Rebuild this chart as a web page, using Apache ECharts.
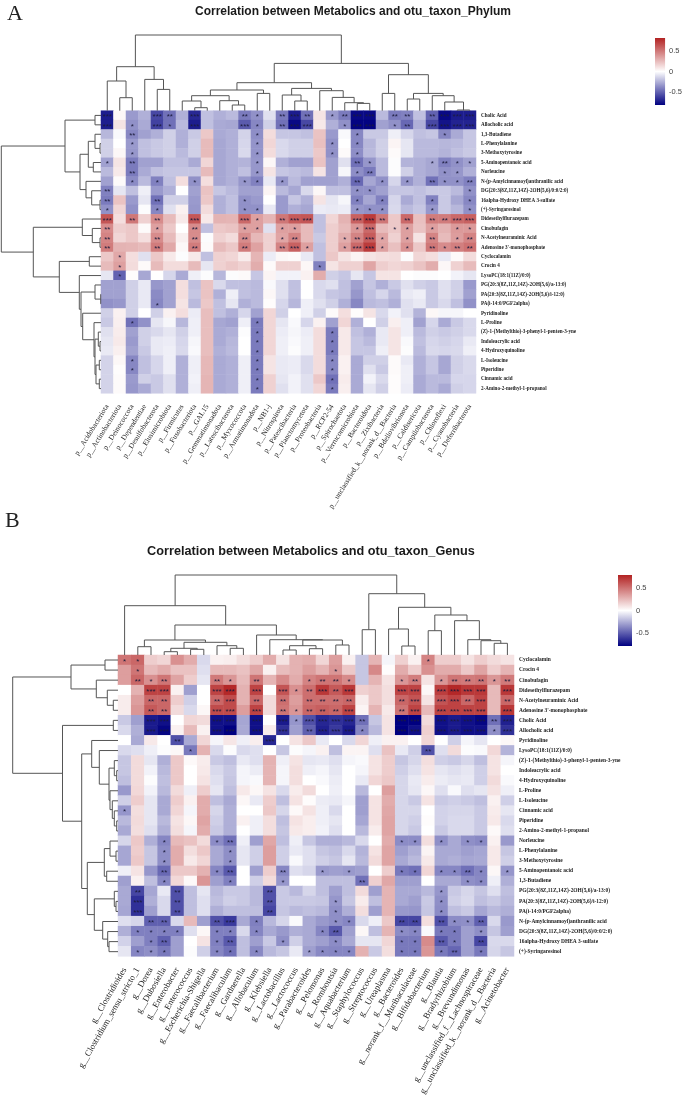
<!DOCTYPE html>
<html lang="en">
<head>
<meta charset="UTF-8">
<title>Correlation between Metabolics and otu_taxon</title>
<style>
    html, body { margin: 0; padding: 0; background: #fff; }
    #main { width: 685px; height: 1098px; filter: blur(0.4px); }
</style>
</head>
<body>
<div id="main"></div>
<script src="https://cdn.jsdelivr.net/npm/echarts@6/dist/echarts.min.js"></script>
<script>
// ---------- panel A: phylum ----------
var taxaA = ['p__Acidobacteriota','p__Actinobacteriota','p__Deinococcota','p__Dependentiae','p__Desulfobacterota','p__Elusimicrobiota','p__Firmicutes','p__Fusobacteriota','p__GAL15','p__Gemmatimonadota','p__Latescibacterota','p__Myxococcota','p__Armatimonadota','p__NB1-j','p__Nitrospirota','p__Patescibacteria','p__Planctomycetota','p__Proteobacteria','p__RCP2-54','p__Spirochaetota','p__Verrucomicrobiota','p__Bacteroidota','p__Zixibacteria','p__unclassified_k__norank_d__Bacteria','p__Bdellovibrionota','p__Caldisericota','p__Campilobacterota','p__Chloroflexi','p__Cyanobacteria','p__Deferribacterota'];
var metabA = ['Cholic Acid','Allocholic acid','1,3-Butadiene','L-Phenylalanine','3-Methoxytyrosine','5-Aminopentanoic acid','Norleucine','N-(p-Amylcinnamoyl)anthranilic acid','DG(20:3(8Z,11Z,14Z)-2OH(5,6)/0:0/2:0)','16alpha-Hydroxy DHEA 3-sulfate','(+)-Syringaresinol','Didesethylflurazepam','Cinobufagin','N-Acetylneuraminic Acid','Adenosine 3\'-monophosphate','Cyclocalamin','Crocin 4','LysoPC(18:1(11Z)/0:0)','PG(20:3(8Z,11Z,14Z)-2OH(5,6)/a-13:0)','PA(20:3(8Z,11Z,14Z)-2OH(5,6)/i-12:0)','PA(i-14:0/PGF2alpha)','Pyridinoline','L-Proline','(Z)-1-(Methylthio)-3-phenyl-1-penten-3-yne','Indoleacrylic acid','4-Hydroxyquinoline','L-Isoleucine','Piperidine','Cinnamic acid','2-Amino-2-methyl-1-propanol'];
var corrA = [
[-.72,.03,-.32,-.25,-.58,-.45,-.25,-.68,-.2,-.25,-.22,-.42,-.35,-.1,-.42,-.72,-.45,.1,-.32,-.42,-.78,-.78,-.22,-.42,-.4,-.2,-.5,-.78,-.72,-.72],
[-.72,.1,-.35,-.27,-.6,-.45,-.22,-.72,-.2,-.27,-.28,-.52,-.38,-.15,-.45,-.78,-.58,.08,-.25,-.35,-.8,-.8,-.3,-.35,-.48,-.25,-.58,-.75,-.7,-.7],
[-.23,-.02,-.38,-.3,-.25,-.15,-.25,-.17,.2,-.27,-.25,-.14,-.36,.13,-.18,-.18,-.2,.22,-.32,-.02,-.38,-.17,-.17,-.05,-.13,-.2,-.18,-.38,-.27,-.18],
[-.15,0,-.32,-.2,-.17,-.15,-.25,-.15,.25,-.28,-.25,-.13,-.34,.15,-.12,-.15,-.15,.23,-.35,0,-.38,-.23,-.15,.04,-.08,-.22,-.22,-.23,-.22,-.18],
[-.15,.03,-.33,-.2,-.17,-.15,-.22,-.15,.25,-.28,-.25,-.12,-.34,.13,-.12,-.15,-.15,.2,-.35,.02,-.36,-.22,-.15,.02,-.08,-.22,-.22,-.24,-.2,-.17],
[-.3,.1,-.42,-.3,-.3,-.2,-.2,-.27,.15,-.28,-.25,-.24,-.33,.03,-.25,-.3,-.3,.22,-.3,-.1,-.45,-.33,-.22,-.01,-.24,-.25,-.28,-.4,-.35,-.3],
[-.22,.08,-.42,-.27,-.2,-.18,-.18,-.18,.25,-.28,-.25,-.2,-.33,.1,-.18,-.2,-.22,.1,-.3,-.03,-.36,-.42,-.22,-.01,-.15,-.25,-.28,-.35,-.33,-.25],
[-.3,.02,-.37,-.22,-.4,-.2,.12,-.35,.12,-.28,-.25,-.33,-.4,-.07,-.33,-.22,-.3,-.3,-.3,-.25,-.48,-.28,-.35,-.13,-.33,-.25,-.45,-.35,-.35,-.4],
[-.4,-.08,-.2,-.05,-.32,-.25,0,-.3,.22,-.18,-.22,-.3,-.3,.04,-.22,-.28,-.12,.03,-.2,-.2,-.35,-.35,-.3,-.18,-.18,-.2,-.17,-.17,-.22,-.35],
[-.42,.22,-.32,-.08,-.45,-.15,-.15,-.32,.2,-.25,-.2,-.35,-.32,0,-.32,-.18,-.25,.1,-.08,-.03,-.4,-.28,-.4,-.13,-.27,-.2,-.4,-.17,-.28,-.38],
[-.35,.15,-.35,-.01,-.38,-.1,.05,-.33,.13,-.25,-.2,-.35,-.35,-.07,-.32,-.25,-.28,-.06,-.07,-.06,-.33,-.35,-.35,-.12,-.22,-.18,-.33,-.17,-.23,-.35],
[.62,.12,.5,.17,.42,.25,.08,.62,.08,.28,.27,.55,.35,.27,.5,.6,.62,-.2,.15,.28,.58,.72,.5,.2,.55,.23,.48,.48,.55,.58],
[.42,.18,.2,.02,.35,.2,0,.42,-.2,.2,.22,.35,.35,-.1,.35,.35,.25,-.2,.18,.25,.38,.55,.25,.2,.35,.22,.35,.28,.37,.37],
[.45,.15,.2,.12,.42,.25,.06,.42,-.01,.17,.13,.42,.26,.17,.33,.45,.25,-.17,.18,.3,.45,.6,.33,.17,.35,.1,.45,.25,.36,.45],
[.48,.28,.27,.25,.48,.32,.03,.48,.02,.25,.2,.48,.34,.17,.45,.58,.35,-.2,.18,.35,.55,.72,.35,.23,.4,.2,.5,.42,.47,.52],
[.2,.32,.12,-.1,.2,.08,-.01,.08,-.2,.17,.15,.07,.27,-.06,.03,.02,-.07,-.2,.2,.1,.04,.1,.12,.13,-.01,.15,.12,-.07,.02,.13],
[.25,.35,.13,.02,.25,.13,.13,.25,-.08,.17,.2,.17,.3,.02,.17,.17,.03,-.4,.1,.17,.17,.33,.18,.15,.17,.22,.3,.03,.17,.25],
[-.08,-.5,.01,-.28,0,-.13,-.27,-.05,-.01,-.23,-.01,.02,-.18,.04,-.04,-.04,.05,.3,-.15,-.18,-.08,-.18,.1,.1,0,-.01,-.01,0,-.04,-.08],
[-.3,-.3,-.15,-.07,-.33,-.3,.12,-.2,.22,-.12,-.2,-.2,-.22,-.02,-.1,-.2,0,-.12,-.1,-.2,-.3,-.18,-.25,-.17,-.1,-.15,-.17,-.1,-.15,-.32],
[-.3,-.3,-.15,-.07,-.37,-.3,.12,-.18,.22,-.25,-.05,-.2,-.22,.03,-.1,-.2,0,-.12,-.18,-.2,-.33,-.2,-.13,-.22,-.07,-.05,-.17,-.1,-.15,-.3],
[-.35,-.33,-.15,-.07,-.38,-.3,.1,-.22,.2,-.2,-.08,-.25,-.22,.01,-.13,-.23,-.05,-.1,-.15,-.25,-.38,-.22,-.2,-.25,-.1,-.07,-.17,-.12,-.2,-.35],
[-.15,.05,-.15,0,-.15,.05,.12,-.06,.24,-.2,-.25,-.13,-.3,.15,-.15,0,-.05,-.15,.02,.12,.01,.1,-.12,-.04,-.1,-.24,.03,-.03,-.03,0],
[-.17,.06,-.45,-.35,-.08,-.03,-.23,-.05,.24,-.28,-.3,-.05,-.42,.15,-.08,-.02,-.13,.05,-.3,.15,-.25,0,-.15,.06,-.05,-.3,-.13,-.27,-.17,-.12],
[-.1,.07,-.3,-.15,-.12,-.08,-.15,-.05,.24,-.27,-.25,-.01,-.42,.15,-.06,-.03,-.06,.13,-.42,.08,-.2,-.25,-.07,.1,-.05,-.22,-.15,-.17,-.15,-.12],
[-.08,.08,-.32,-.15,-.07,-.06,-.13,-.03,.24,-.27,-.23,0,-.42,.15,-.05,-.02,-.05,.13,-.42,.08,-.18,-.22,-.07,.1,-.02,-.2,-.13,-.15,-.13,-.07],
[-.07,.06,-.3,-.17,-.07,-.05,-.12,-.02,.24,-.25,-.22,0,-.42,.15,-.05,-.01,-.05,.13,-.42,.08,-.18,-.18,-.05,.1,-.01,-.22,-.12,-.13,-.12,-.05],
[-.14,.03,-.38,-.2,-.13,-.05,-.25,-.05,.26,-.27,-.25,-.05,-.42,.1,-.07,-.06,-.12,.13,-.38,.05,-.27,-.15,-.15,.02,-.07,-.25,-.18,-.28,-.15,-.12],
[-.14,.01,-.38,-.2,-.13,-.05,-.25,-.05,.26,-.27,-.25,-.05,-.42,.1,-.07,-.06,-.12,.13,-.38,.05,-.27,-.1,-.17,.02,-.05,-.25,-.18,-.28,-.15,-.12],
[-.14,.02,-.32,-.15,-.17,-.1,-.25,-.04,.27,-.27,-.25,-.05,-.42,.17,-.08,-.04,-.1,.2,-.45,.07,-.27,-.04,-.12,.01,-.05,-.27,-.22,-.22,-.13,-.13],
[-.14,.02,-.33,-.27,-.17,-.1,-.25,-.05,.27,-.27,-.25,-.05,-.42,.17,-.1,-.04,-.1,.15,-.42,.06,-.27,-.08,-.15,.01,-.06,-.27,-.22,-.27,-.15,-.13]
];
// number of significance stars per cell, five columns to a group
var sigA = [
'30003 20300 02102 32012 33022 02333',
'30103 10300 03102 33001 33012 03333',
'00200 00000 00100 00000 10000 00100',
'00100 00000 00100 00010 10000 00000',
'00100 00000 00100 00010 10000 00000',
'10200 00000 00100 00000 21000 01211',
'00200 00000 00100 00000 12000 00110',
'00101 00100 01101 00000 20101 02112',
'20000 00000 00000 00000 11000 00001',
'20002 00000 01000 00000 10100 01001',
'10001 00000 01100 00000 11100 01001',
'30202 00300 03102 33000 33202 02233',
'20001 00200 01101 10000 13011 01011',
'20002 00200 02001 20001 23101 02012',
'20002 00200 02002 31001 33101 02122',
'01000 00000 00000 00000 00000 00000',
'01000 00000 00000 00100 00000 00000',
'01000 00000 00000 00000 00000 00000',
'00000 00000 00000 00000 00000 00000',
'00000 00000 00000 00000 00000 00000',
'00001 00000 00000 00000 00000 00000',
'00000 00000 00000 00000 00000 00000',
'00100 00000 00100 00000 00000 00000',
'00000 00000 00100 00010 00000 00000',
'00000 00000 00100 00010 00000 00000',
'00000 00000 00100 00010 00000 00000',
'00100 00000 00100 00010 00000 00000',
'00100 00000 00100 00010 00000 00000',
'00000 00000 00100 00010 00000 00000',
'00000 00000 00100 00010 00000 00000'
];
// trees: [merge height, left child, right child], a plain number is a leaf index
var treeTopA = [75.7,
    [44, [29.7, 0, [13, 1, 2]], [31.3, 3, [21.3, 4, 5]]],
    [47.3,
        [28,
            [20.7, [15, [9.7, 6, [3, 7, 8]], [10, 9, [5.7, 10, 11]]], [17.3, 12, 13]],
            [22.3, [15.7, 14, [9.7, 15, 16]], [20, 17, [13.3, 18, [8, 19, [7.3, 20, 21]]]]]
        ],
        [36, [17.3, 22, 23], [17.3, [11.7, 24, 25], [15, 26, [8.7, 27, [.7, 28, 29]]]]]
    ]
];
var treeLeftA = [99.7,
    [36, [6, 0, 1], [21,
        [12.7, [6, 2, [1, 3, 4]], [7.7, 5, 6]],
        [15, 7, [9.3, 8, [1, 9, 10]]]
    ]],
    [67.7,
        [18.7, 11, [8.7, 12, [1, 13, 14]]],
        [41.7, [11.7, 15, 16],
            [21.7, 17,
                [20, [6, 18, [.3, 19, 20]],
                    [18.3, 21, [7, 22, [6, [2.7, 23, [1, 24, 25]], [5, [1.7, 26, 27], [1.7, 28, 29]]]]]
                ]
            ]
        ]
    ]
];

// ---------- panel B: genus ----------
var taxaB = ['g__Clostridioides','g__Clostridium_sensu_stricto_1','g__Dorea','g__Dubosiella','g__Enterobacter','g__Enterococcus','g__Escherichia-Shigella','g__Faecalibacterium','g__Faecalibaculum','g__Gardnerella','g__Allobaculum','g__Klebsiella','g__Lactobacillus','g__Lactococcus','g__Parabacteroides','g__Pelomonas','g__Romboutsia','g__Aquabacterium','g__Staphylococcus','g__Streptococcus','g__Ureaplasma','g__Bacteroides','g__norank_f__Muribaculaceae','g__Bifidobacterium','g__Blautia','g__Bradyrhizobium','g__Brevundimonas','g__unclassified_f__Lachnospiraceae','g__unclassified_k__norank_d__Bacteria','g__Acinetobacter'];
var metabB = ['Cyclocalamin','Crocin 4','Cinobufagin','Didesethylflurazepam','N-Acetylneuraminic Acid','Adenosine 3\'-monophosphate','Cholic Acid','Allocholic acid','Pyridinoline','LysoPC(18:1(11Z)/0:0)','(Z)-1-(Methylthio)-3-phenyl-1-penten-3-yne','Indoleacrylic acid','4-Hydroxyquinoline','L-Proline','L-Isoleucine','Cinnamic acid','Piperidine','2-Amino-2-methyl-1-propanol','Norleucine','L-Phenylalanine','3-Methoxytyrosine','5-Aminopentanoic acid','1,3-Butadiene','PG(20:3(8Z,11Z,14Z)-2OH(5,6)/a-13:0)','PA(20:3(8Z,11Z,14Z)-2OH(5,6)/i-12:0)','PA(i-14:0/PGF2alpha)','N-(p-Amylcinnamoyl)anthranilic acid','DG(20:3(8Z,11Z,14Z)-2OH(5,6)/0:0/2:0)','16alpha-Hydroxy DHEA 3-sulfate','(+)-Syringaresinol'];
var corrB = [
[.5,.55,.18,.15,.4,.3,-.12,.05,.06,.12,.18,.3,.1,.28,.3,.15,.35,.05,-.18,.27,-.03,.17,.05,.45,.18,.18,.1,.18,.13,.1],
[.35,.5,.25,.3,.22,.22,-.1,.25,.25,.22,.32,.05,.24,.28,.35,.27,.38,.2,-.18,.43,.01,.3,.18,.4,.3,.3,.2,.33,.18,.27],
[.35,.55,.4,.5,.33,.18,-.08,.48,.38,.25,.5,.27,.42,.3,.45,.5,.5,.42,-.18,.27,.1,.38,.47,.1,.38,.5,.48,.5,.38,.48],
[0,.28,.68,.68,.05,-.3,0,.68,.78,.28,.68,0,.62,.4,.52,.72,.6,.72,.17,.2,.12,.68,.68,.03,.7,.78,.72,.72,.25,.72],
[.07,.35,.55,.55,.18,-.15,0,.55,.65,.28,.55,.13,.52,.35,.52,.52,.52,.55,.07,.2,.12,.55,.62,.1,.62,.68,.55,.68,.25,.55],
[.07,.38,.6,.55,.13,-.12,.03,.65,.65,.35,.68,.13,.5,.38,.55,.58,.55,.68,.04,.27,.08,.5,.68,.25,.68,.68,.68,.68,.25,.72],
[-.17,-.3,-.72,-.75,0,.15,.13,-.75,-.75,-.28,-.75,0,-.72,-.33,-.55,-.68,-.65,-.68,-.45,-.18,.1,-.8,-.8,.13,-.75,-.72,-.75,-.78,-.45,-.7],
[-.12,-.25,-.72,-.78,.05,.25,.05,-.75,-.8,-.27,-.75,.07,-.65,-.3,-.5,-.7,-.62,-.72,-.38,-.22,.1,-.8,-.75,.17,-.75,-.72,-.75,-.75,-.35,-.65],
[0,-.27,.08,0,-.55,-.27,.15,-.03,.09,-.05,.06,-.68,0,.1,.2,-.07,0,-.12,.15,-.05,.05,.05,0,.15,0,-.15,-.03,-.08,0,.03],
[-.12,-.1,-.05,-.01,.03,-.42,.28,-.12,-.01,-.12,-.1,0,-.18,-.01,-.03,.05,-.2,.04,.04,-.1,.22,-.07,-.15,-.55,-.1,.13,-.01,-.02,.14,-.24],
[-.18,.13,-.08,-.25,.2,.02,.07,-.17,-.2,-.07,-.1,.28,-.05,.1,-.08,-.07,-.1,-.03,-.02,.1,.18,-.18,-.13,.12,-.15,-.17,-.13,-.2,.1,-.03],
[-.18,.13,-.04,-.22,.2,0,.08,-.12,-.17,-.03,-.06,.27,-.03,.12,-.05,-.03,-.08,0,-.03,.1,.18,-.15,-.1,.1,-.08,-.1,-.08,-.15,.1,0],
[-.2,.13,-.01,-.2,.2,0,.1,-.1,-.18,-.03,-.02,.27,-.03,.12,0,-.02,-.06,0,-.07,.15,.2,-.13,-.07,.07,-.06,-.08,-.07,-.15,.13,-.02],
[-.32,.14,-.04,-.22,.13,-.05,.18,-.08,-.2,.08,.03,.1,-.12,.07,.13,0,-.05,0,-.22,0,.35,-.13,-.08,.03,-.1,-.02,-.1,-.08,.1,-.05],
[-.15,.18,-.08,-.27,.18,.05,.3,-.2,-.27,.03,-.07,.18,-.2,.1,.01,-.06,-.07,-.03,-.3,.1,.3,-.13,-.17,.1,-.17,-.15,-.17,-.2,.05,-.15],
[-.33,.12,-.08,-.27,.15,-.03,.3,-.13,-.25,0,0,.2,-.13,.02,.1,-.05,-.12,0,-.3,.1,.32,-.13,-.13,0,-.14,-.13,-.13,-.17,.07,-.08],
[-.22,.13,-.08,-.22,.1,.03,.33,-.15,-.25,.05,-.05,.12,-.2,.1,.06,-.05,-.08,0,-.28,.1,.33,-.13,-.15,.01,-.14,-.12,-.12,-.17,.08,-.12],
[-.27,.12,-.1,-.25,.12,-.03,.3,-.17,-.25,0,-.05,.12,-.18,.08,.06,-.04,-.1,0,-.22,.07,.33,-.13,-.17,0,-.17,-.12,-.12,-.17,.02,-.1],
[-.13,.2,-.25,-.38,.25,.22,.13,-.36,-.45,-.05,-.3,.32,-.2,-.05,-.18,-.25,-.25,-.22,-.12,0,.3,-.36,-.36,.12,-.35,-.27,-.35,-.37,.05,-.32],
[-.28,.18,-.18,-.35,.3,.12,.2,-.27,-.35,-.08,-.15,.35,-.15,-.07,-.1,-.18,-.2,-.12,-.24,.1,.33,-.3,-.25,.04,-.27,-.27,-.3,-.28,.08,-.18],
[-.28,.2,-.18,-.35,.3,.08,.15,-.27,-.35,-.08,-.15,.35,-.15,-.02,-.1,-.15,-.18,-.08,-.22,.13,.33,-.27,-.22,.08,-.27,-.25,-.28,-.27,.08,-.15],
[-.05,.1,-.33,-.47,.2,.2,.28,-.38,-.52,0,-.3,.18,-.38,-.1,-.13,-.32,-.3,-.32,-.3,0,.18,-.42,-.45,.15,-.38,-.38,-.45,-.38,.03,-.33],
[-.3,.05,-.2,-.38,.14,.02,.38,-.3,-.4,0,-.15,.13,-.33,0,0,-.2,-.2,-.2,-.45,.17,.32,-.3,-.3,0,-.27,-.27,-.35,-.37,-.05,-.25],
[-.27,-.58,-.28,-.07,-.55,-.2,-.08,-.22,-.17,-.17,-.22,-.55,-.17,-.22,-.13,-.2,-.3,-.2,.13,-.3,.27,-.27,-.27,-.22,-.33,-.17,-.13,-.18,-.1,-.2],
[-.27,-.65,-.25,-.12,-.55,-.2,-.1,-.2,-.15,-.17,-.22,-.55,-.17,-.17,-.17,-.18,-.33,-.18,.07,-.2,.27,-.27,-.3,-.17,-.35,-.15,-.12,-.2,-.17,-.22],
[-.28,-.65,-.3,-.12,-.55,-.2,-.1,-.25,-.2,-.2,-.2,-.58,-.18,-.22,-.2,-.22,-.35,-.25,.12,-.3,.27,-.32,-.33,-.18,-.36,-.2,-.17,-.28,-.22,-.25],
[-.1,-.13,-.5,-.5,-.12,.25,-.3,-.55,-.62,-.27,-.4,-.22,-.13,-.02,-.27,-.32,-.35,-.38,-.12,-.05,.2,-.58,-.58,.12,-.55,-.36,-.35,-.5,-.12,-.32],
[-.25,-.4,-.4,-.4,-.4,-.1,.03,-.4,-.4,-.12,-.38,-.27,-.32,-.25,-.27,-.38,-.52,-.3,.03,-.2,.27,-.36,-.38,-.02,-.42,-.42,-.3,-.35,-.18,-.3],
[-.14,-.3,-.4,-.5,-.3,0,.1,-.4,-.52,-.2,-.3,-.17,-.35,-.15,-.27,-.3,-.36,-.27,-.08,-.08,.15,-.42,-.42,.42,-.52,-.42,-.3,-.58,-.12,-.12],
[-.08,-.38,-.35,-.42,-.3,-.01,-.15,-.38,-.45,-.2,-.37,-.22,-.18,-.07,-.3,-.37,-.38,-.38,.28,-.17,.12,-.42,-.42,.38,-.42,-.48,-.3,-.42,-.13,-.18]
];
var sigB = [
'11000 00000 00000 00000 00010 00000',
'01000 00000 00000 01000 00000 00000',
'02120 00210 20001 22100 01201 22212',
'00330 00330 30312 32300 03303 33303',
'00220 00230 20202 22200 02303 32302',
'00220 00330 30212 22300 02303 33303',
'00330 00330 30313 33320 03303 33323',
'00330 00330 30302 33310 03303 33313',
'00002 00000 03000 00000 00000 00000',
'00000 10000 00000 00000 00020 00000',
'00000 00000 00000 00000 00000 00000',
'00000 00000 00000 00000 00000 00000',
'00000 00000 00000 00000 00000 00000',
'00000 00000 00000 00000 00000 00000',
'00000 00000 00000 00000 00000 00000',
'10000 00000 00000 00000 00000 00000',
'00000 00000 00000 00000 00000 00000',
'00000 00000 00000 00000 00000 00000',
'00010 00120 00000 00000 01101 01100',
'00010 00010 00000 00000 00000 00000',
'00010 00010 00000 00000 00000 00000',
'00020 00120 00200 10100 01101 12101',
'00010 00010 00100 00020 00000 01100',
'02002 00000 02000 00000 00001 00000',
'03002 00000 02000 01000 00001 00000',
'03002 00000 02000 01000 00001 00000',
'00220 00230 10000 01100 02202 11200',
'01111 00110 10000 12000 01101 10100',
'00120 00120 00100 01000 01102 10200',
'01110 00110 10001 11100 01101 20100'
];
var treeTopB = [80,
    [49.3, 0, [30,
        [15, [8.3, 1, 2], [12.7,
            [6.7, [3.3, 3, 4], [5.7, 5, 6]],
            [9.3, 7, [6.7, 8, 9]]
        ]],
        [20, 10, [15.3, 11, [15, [9.3, [5, 12, 13], [6.3, 14, 15]], [10, 16, 17]]]]
    ]],
    [61.3,
        [25.3, 18, 19],
        [47.7,
            [26, 20, [9, 21, 22]],
            [40, [24.3, 23, 24], [34.3, 25, [15.3, 26, [14.3, 27, [11.7, 28, 29]]]]]
        ]
    ]
];
var treeLeftB = [105.3,
    [47, [13, 0, 1], [21.7, 2, [10.7, 3, [4.7, 4, 5]]]],
    [55.5,
        [4.7, 6, 7],
        [36.3,
            [26.3, 8, [18.7, 9, [9, [3.7, 10, [1.3, 11, 12]], [8, 13, [5.7, 14, [3.7, 15, [1.3, 16, 17]]]]]]],
            [30.7,
                [13.7, [8, 18, [2, 19, 20]], [11.3, 21, 22]],
                [23.7, [3.7, 23, [2, 24, 25]], [15.3, 26, [10.3, 27, [9, 28, 29]]]]
            ]
        ]
    ]
];

var palette = ['#000080', '#ffffff', '#B22222'];
var barTicks = [-0.5, 0, 0.5];

var option = {
    backgroundColor: '#fff',
    animation: false,
    title: [], grid: [], xAxis: [], yAxis: [], visualMap: [], series: []
};

// flatten a tree to one record per merge: pos left, height left, pos right, height right, height
function flatten(node, out) {
    if (typeof node === 'number') return { pos: node, h: 0 };
    var a = flatten(node[1], out), b = flatten(node[2], out);
    out.push([a.pos, a.h, b.pos, b.h, node[0]]);
    return { pos: (a.pos + b.pos) / 2, h: node[0] };
}

function dendroSeries(tree, gridIndex, vertical) {
    var rows = [];
    flatten(tree, rows);
    return {
        type: 'custom', coordinateSystem: 'cartesian2d', clip: false, silent: true,
        xAxisIndex: gridIndex, yAxisIndex: gridIndex,
        data: rows,
        renderItem: function (params, api) {
            var pt = function (pos, h) { return api.coord(vertical ? [pos, h] : [h, pos]); };
            var h = api.value(4);
            return {
                type: 'polyline',
                shape: { points: [pt(api.value(0), api.value(1)), pt(api.value(0), h), pt(api.value(2), h), pt(api.value(2), api.value(3))] },
                style: { fill: null, stroke: '#555', lineWidth: 1 }
            };
        }
    };
}

function colorBarSeries(gridIndex, range) {
    return {
        type: 'custom', coordinateSystem: 'cartesian2d', clip: false, silent: true,
        xAxisIndex: gridIndex, yAxisIndex: gridIndex,
        data: [[0, range]],
        renderItem: function (params, api) {
            var a = api.coord([0, range]), b = api.coord([1, -range]);
            return {
                type: 'rect',
                shape: { x: a[0], y: a[1], width: b[0] - a[0], height: b[1] - a[1] },
                style: { fill: new echarts.graphic.LinearGradient(0, 0, 0, 1, [
                    { offset: 0, color: palette[2] }, { offset: 0.5, color: palette[1] }, { offset: 1, color: palette[0] }
                ]) }
            };
        }
    };
}

function hiddenAxis(o) {
    var a = { type: 'value', show: false, splitLine: { show: false } };
    for (var k in o) a[k] = o[k];
    return a;
}

function addPanel(p) {
    var n = option.grid.length;
    option.title.push({ text: p.title, left: p.titleX, top: p.titleY, padding: 0, textAlign: 'center', textStyle: { fontFamily: 'Liberation Sans', fontWeight: 'bold', fontSize: p.titleSize, color: '#1a1a1a' } });
    option.title.push({ text: p.letter, left: p.letterX, top: p.letterY, padding: 0, textStyle: { fontFamily: 'Liberation Serif', fontWeight: 'normal', fontSize: 22, color: '#222' } });

    // heatmap
    option.grid.push({ left: p.x, top: p.y, width: p.w, height: p.h });
    option.xAxis.push({
        type: 'category', gridIndex: n, data: p.taxa, position: 'bottom',
        axisLine: { show: false }, axisTick: { show: false }, splitLine: { show: false },
        axisLabel: { interval: 0, rotate: p.rotate, margin: p.colMargin, align: 'right', verticalAlign: 'middle', fontFamily: 'Liberation Serif', fontSize: p.colFont, color: '#222' }
    });
    option.yAxis.push({
        type: 'category', gridIndex: n, data: p.metab, inverse: true, position: 'right',
        axisLine: { show: false }, axisTick: { show: false }, splitLine: { show: false },
        axisLabel: { interval: 0, margin: 5, fontFamily: 'Liberation Serif', fontWeight: 'bold', fontSize: p.rowFont, color: '#222' }
    });
    var cells = [];
    p.corr.forEach(function (row, r) {
        row.forEach(function (v, c) { cells.push([c, r, v]); });
    });
    var sig = p.sig.map(function (s) { return s.replace(/ /g, ''); });
    option.series.push({
        type: 'heatmap', xAxisIndex: n, yAxisIndex: n, data: cells, silent: true,
        label: {
            show: true, fontFamily: 'Liberation Sans', fontSize: 8, color: '#1c1c3c', offset: [0, 1.5],
            formatter: function (d) { return '*'.repeat(+sig[d.data[1]][d.data[0]]); }
        }
    });
    option.visualMap.push({
        type: 'continuous', show: false, seriesIndex: option.series.length - 1, dimension: 2,
        min: -p.range, max: p.range, inRange: { color: palette }
    });

    // column dendrogram
    option.grid.push({ left: p.x, top: p.y - p.topH, width: p.w, height: p.topH });
    option.xAxis.push(hiddenAxis({ gridIndex: n + 1, min: -0.5, max: 29.5 }));
    option.yAxis.push(hiddenAxis({ gridIndex: n + 1, min: 0, max: p.topH }));
    option.series.push(dendroSeries(p.treeTop, n + 1, true));

    // row dendrogram
    option.grid.push({ left: p.x - p.leftW, top: p.y, width: p.leftW, height: p.h });
    option.xAxis.push(hiddenAxis({ gridIndex: n + 2, min: 0, max: p.leftW, inverse: true }));
    option.yAxis.push(hiddenAxis({ gridIndex: n + 2, min: -0.5, max: 29.5, inverse: true }));
    option.series.push(dendroSeries(p.treeLeft, n + 2, false));

    // colour bar with its scale
    option.grid.push({ left: p.barX, top: p.barY, width: 14, height: p.barH });
    option.xAxis.push(hiddenAxis({ gridIndex: n + 3, min: 0, max: 1 }));
    option.yAxis.push({
        type: 'value', gridIndex: n + 3, position: 'right', min: -p.range, max: p.range,
        axisLine: { show: false }, splitLine: { show: false },
        axisTick: { show: true, length: 2, customValues: barTicks, lineStyle: { color: '#555', width: 0.8 } },
        axisLabel: { show: true, margin: 4, customValues: barTicks, fontFamily: 'Liberation Sans', fontSize: 7.5, color: '#444', formatter: function (v) { return String(v); } }
    });
    option.series.push(colorBarSeries(n + 3, p.range));
}

addPanel({
    title: 'Correlation between Metabolics and otu_taxon_Phylum', titleX: 353, titleY: 6, titleSize: 12,
    letter: 'A', letterX: 7, letterY: 3,
    x: 101, y: 110.7, w: 375, h: 282.6, topH: 80, leftW: 100,
    taxa: taxaA, metab: metabA, corr: corrA, sig: sigA, treeTop: treeTopA, treeLeft: treeLeftA,
    rotate: 58, colMargin: 12, colFont: 7.4, rowFont: 5.1,
    range: 0.81, barX: 655, barY: 38, barH: 67
});
addPanel({
    title: 'Correlation between Metabolics and otu_taxon_Genus', titleX: 311, titleY: 544.5, titleSize: 12.7,
    letter: 'B', letterX: 5, letterY: 510,
    x: 118, y: 655, w: 396, h: 301.7, topH: 84, leftW: 106,
    taxa: taxaB, metab: metabB, corr: corrB, sig: sigB, treeTop: treeTopB, treeLeft: treeLeftB,
    rotate: 60, colMargin: 12, colFont: 8.8, rowFont: 5.45,
    range: 0.8, barX: 618, barY: 575, barH: 71
});

var myChart = echarts.init(document.getElementById('main'));
myChart.setOption(option);
</script>
</body>
</html>
